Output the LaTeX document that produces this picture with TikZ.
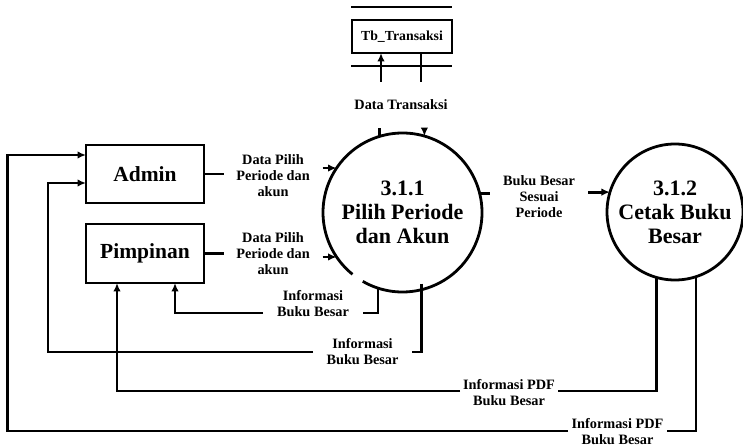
\documentclass[tikz,border=0pt]{standalone}
\usepackage{fontspec}
\setmainfont{Liberation Serif}
\usetikzlibrary{arrows.meta,calc}
\begin{document}
\begin{tikzpicture}[x=1pt,y=1pt,
  line width=2.8pt,
  every node/.style={outer sep=0pt, inner sep=0pt},
  entity/.style={draw, minimum width=118pt, minimum height=58pt,
    font=\fontsize{21.5}{24}\selectfont\bfseries},
  process/.style={circle, align=center,
    font=\fontsize{22}{24}\selectfont\bfseries},
  datastore/.style={draw, minimum width=100pt, minimum height=33pt,
    font=\fontsize{13.8}{16}\selectfont\bfseries},
  flowlabel/.style={align=center, minimum width=99pt,
    font=\fontsize{14.3}{16}\selectfont\bfseries},
  flow/.style={-{Latex[length=8.5pt,width=7.5pt]}}]

\useasboundingbox (0,0) rectangle (743,447);

% external entities
\node[entity] (adm) at (145,273) {Admin};
\node[entity, minimum height=59pt] (pim) at (145,193.5) {Pimpinan};

% processes
\node[process, minimum size=159pt] (p1) at (402.5,234.5) {3.1.1\\Pilih Periode\\dan Akun};
\draw (p1.240) arc[start angle=240, end angle=591, radius=79.5pt];
\node[process, draw, minimum size=136pt] (p2) at (675,235) {3.1.2\\Cetak Buku\\Besar};

% data store
\node[datastore] (st) at (402,410.5) {Tb\_Transaksi};
\draw ($(st.north west)+(-1,13)$) -- ($(st.north east)+(0,13)$);
\draw ($(st.south west)+(-1,-13)$) -- ($(st.south east)+(0,-13)$);

% flow labels
\node[flowlabel, minimum height=46pt] (ld) at (401,342) {Data Transaksi};
\node[flowlabel] (la) at (273,271.5) {Data Pilih\\Periode dan\\akun};
\node[flowlabel] (lb) at (273,193) {Data Pilih\\Periode dan\\akun};
\node[flowlabel, minimum width=98pt] (lc) at (539,250) {Buku Besar\\Sesuai\\Periode};
\node[flowlabel, minimum width=100pt] (li1) at (313,143) {Informasi\\Buku Besar};
\node[flowlabel] (li2) at (362.5,95) {Informasi\\Buku Besar};
\node[flowlabel, minimum width=98pt] (lp1) at (509,54) {Informasi PDF\\Buku Besar};
\node[flowlabel] (lp2) at (617.5,15.5) {Informasi PDF\\Buku Besar};

% process <-> data store
\draw (p1.107.2) -- (p1.107.2 |- ld.south);
\draw[flow] ($(ld.north)+(-20,0)$) -- ($(st.south)+(-21,0)$);
\draw ($(st.south)+(19,0)$) -- ($(ld.north)+(20,0)$);
\draw[flow] (ld.south -| p1.74.3) -- (p1.74.3);

% entities -> process 3.1.1
\draw (adm.east) -- (adm.east -| la.west);
\draw[flow] (la.east |- p1.146.8) -- (p1.146.8);
\draw (pim.east) -- (pim.east -| lb.west);
\draw[flow] (lb.east |- p1.214.9) -- (p1.214.9);

% 3.1.1 -> 3.1.2
\draw (p1.14.9) -- (p1.14.9 -| lc.west);
\draw[flow] (lc.east |- p2.163.8) -- (p2.163.8);

% 3.1.1 -> entities
\draw (p1.252.1) |- (li1.east |- 0,134);
\draw[flow] (li1.west |- 0,134) -| ($(pim.south)+(30,0)$);
\draw ($(p1.284.9)+(0,6)$) |- (li2.east);
\draw[flow] (li2.west) -| ($(adm.west)+(-38,-9)$) -- ($(adm.west)+(0,-9)$);

% 3.1.2 -> entities
\draw (p2.254.7) |- (lp1.east |- 0,56);
\draw[flow] (lp1.west |- 0,56) -| ($(pim.south)+(-28,0)$);
\draw (p2.288) |- (lp2.east |- 0,16);
\draw[flow] (lp2.west |- 0,16) -| ($(adm.west)+(-78.5,19)$) -- ($(adm.west)+(0,19)$);

\end{tikzpicture}
\end{document}
